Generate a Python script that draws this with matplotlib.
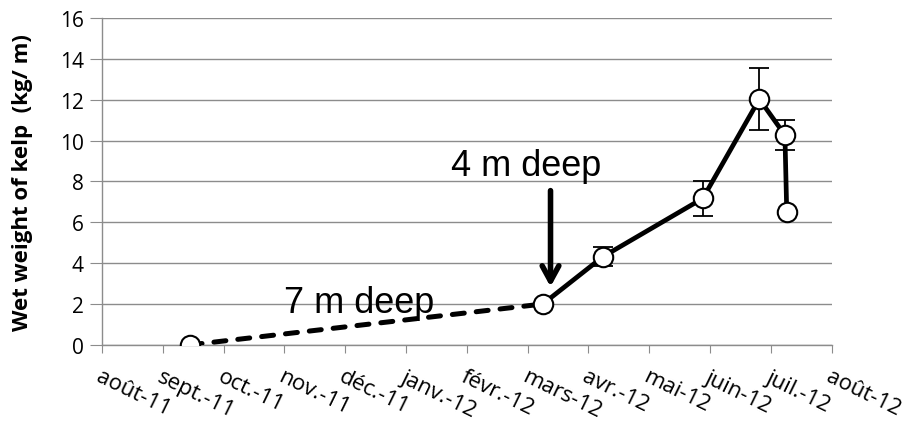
import matplotlib.pyplot as plt
import numpy as np

# month ticks, 0 = août-11
months = ["août-11", "sept.-11", "oct.-11", "nov.-11", "déc.-11", "janv.-12",
          "févr.-12", "mars-12", "avr.-12", "mai-12", "juin-12", "juil.-12", "août-12"]

# sampling dates (in months since août-11) and wet weight (kg/m)
sample_month = [1.45, 7.25, 8.24, 9.88, 10.81, 11.23, 11.26]
weight = [0.0, 2.0, 4.32, 7.17, 12.03, 10.27, 6.52]
weight_err = [0.0, 0.0, 0.48, 0.85, 1.5, 0.72, 0.0]

grid_col = '#8c8c8c'
plt.rcParams['font.family'] = ['Open Sans', 'DejaVu Sans']

fig = plt.figure(figsize=(9.1, 4.27), dpi=100)
ax = fig.add_axes([0.112, 0.19, 0.802, 0.7655])

x = np.array(sample_month)
y = np.array(weight)
e = np.array(weight_err)

# error bars behind the markers
has_err = e > 0
ax.errorbar(x[has_err], y[has_err], yerr=e[has_err], fmt='none', ecolor='black',
            elinewidth=1.3, capsize=7, capthick=1.3, zorder=2)

# 7 m deep period (dashed), then 4 m deep (solid)
ax.plot(x[:2], y[:2], color='black', lw=3.6, ls=(0, (2.4, 2.4)),
        dash_capstyle='round', zorder=3)
ax.plot(x[1:], y[1:], color='black', lw=3.4, zorder=3)
ax.plot(x, y, 'o', ms=14, mfc='white', mec='black', mew=1.5, zorder=4)

ax.text(2.99, 1.61, "7 m deep", fontsize=26, family='Liberation Sans', zorder=5)
ax.text(5.74, 8.31, "4 m deep", fontsize=26, family='Liberation Sans', zorder=5)
ax.annotate('', xy=(7.376, 2.84), xytext=(7.376, 7.55),
            arrowprops=dict(arrowstyle='->,head_length=1.1,head_width=0.6',
                            color='black', lw=4, shrinkA=0, shrinkB=0))

ax.set_xlim(0, 12)
ax.set_ylim(0, 16)
ax.set_yticks(np.arange(0, 17, 2))
ax.set_xticks(np.arange(len(months)))
ax.set_xticklabels(months, rotation=-26, ha='left', va='top',
                   rotation_mode='anchor', fontsize=16, color='black')
ax.tick_params(axis='x', length=6, color=grid_col, pad=9)
ax.tick_params(axis='y', length=9, color=grid_col, labelsize=15, pad=4)

ax.yaxis.grid(True, color=grid_col, lw=1.0)
ax.set_axisbelow(True)
for s in ['top', 'right']:
    ax.spines[s].set_visible(False)
for s in ['left', 'bottom']:
    ax.spines[s].set_color(grid_col)
    ax.spines[s].set_linewidth(1.0)

ax.set_ylabel("Wet weight of kelp  (kg/ m)", fontsize=16, fontweight='bold')
ax.yaxis.set_label_coords(-0.095, 0.5)

fig.savefig('out.png', dpi=100)
